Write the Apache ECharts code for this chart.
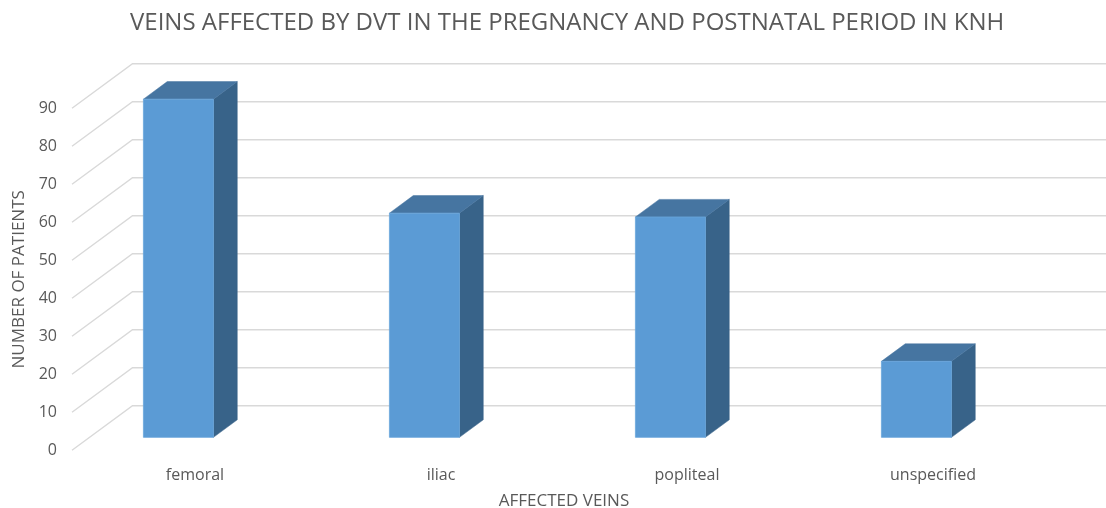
<!DOCTYPE html>
<html>
<head>
<meta charset="utf-8">
<style>
  html, body { margin: 0; padding: 0; background: #ffffff; }
  #chart { width: 1106px; height: 508px; }
</style>
<script src="https://cdn.jsdelivr.net/npm/echarts@6/dist/echarts.min.js"></script>
</head>
<body>
<div id="chart"></div>
<script>
// Veins affected by DVT – number of patients per vein
const categories = ['femoral', 'iliac', 'popliteal', 'unspecified'];
const patients = [89, 59, 58, 20];
const yTicks = [0, 10, 20, 30, 40, 50, 60, 70, 80, 90];

// Oblique 3D look: floor depth vector in pixels, bar placement within the depth
const DEPTH = [60.5, -44.6];
const BAR_FRONT = 0.29;
const BAR_BACK = 0.684;
const BAR_LEFT = -0.281;   // fraction of category band, from band centre
const BAR_W = 0.2846;      // fraction of category band

const TEXT = '#595959';
const GRID_COLOR = '#D9D9D9';
const FONT = '"Open Sans", Lato, sans-serif';

const chart = echarts.init(document.getElementById('chart'), null, { renderer: 'canvas' });

// Back wall + left wall gridline for each value tick
function renderWall(params, api) {
  const v = api.value(0);
  const p = api.coord([0, v]);
  const band = api.size([1, 0])[0];
  const leftX = p[0] - band / 2;
  const y = p[1];
  const bx = leftX + DEPTH[0];
  const by = y + DEPTH[1];
  return {
    type: 'polyline',
    shape: { points: [[leftX, y], [bx, by], [bx + band * 5, by]] },
    style: { stroke: GRID_COLOR, lineWidth: 1.4, fill: null },
    silent: true
  };
}

// 3D box for each bar: front, top and right side faces
function renderBar(params, api) {
  const idx = api.value(0);
  const val = api.value(1);
  const top = api.coord([idx, val]);
  const base = api.coord([idx, 0]);
  const band = api.size([1, 0])[0];
  const fx = BAR_FRONT * DEPTH[0], fy = BAR_FRONT * DEPTH[1];
  const dx = (BAR_BACK - BAR_FRONT) * DEPTH[0];
  const dy = (BAR_BACK - BAR_FRONT) * DEPTH[1];
  const x0 = base[0] + BAR_LEFT * band + fx;
  const x1 = x0 + BAR_W * band;
  const yb = base[1] + fy;
  const yt = top[1] + fy;
  return {
    type: 'group',
    children: [
      {
        type: 'polygon',
        shape: { points: [[x1, yt], [x1 + dx, yt + dy], [x1 + dx, yb + dy], [x1, yb]] },
        style: { fill: '#386389', stroke: '#386389', lineWidth: 0.5 }
      },
      {
        type: 'polygon',
        shape: { points: [[x0, yt], [x1, yt], [x1 + dx, yt + dy], [x0 + dx, yt + dy]] },
        style: { fill: '#4675A1', stroke: '#4675A1', lineWidth: 0.5 }
      },
      {
        type: 'rect',
        shape: { x: x0, y: yt, width: x1 - x0, height: yb - yt },
        style: { fill: '#5B9BD5', stroke: '#6AA6DC', lineWidth: 0.8 }
      }
    ]
  };
}

const option = {
  backgroundColor: '#ffffff',
  animation: false,
  title: {
    text: 'VEINS AFFECTED BY DVT IN THE PREGNANCY AND POSTNATAL PERIOD IN KNH',
    left: 125,
    top: 6,
    textStyle: { color: TEXT, fontFamily: FONT, fontSize: 24, fontWeight: 'normal' }
  },
  grid: { left: 72, right: 50, top: 108.3, bottom: 57.7, outerBoundsMode: 'none', containLabel: false },
  xAxis: {
    type: 'category',
    data: categories,
    name: 'AFFECTED VEINS',
    nameLocation: 'middle',
    nameGap: 42,
    nameTextStyle: { color: TEXT, fontFamily: FONT, fontSize: 17 },
    axisLine: { show: false },
    axisTick: { show: false },
    axisLabel: { color: TEXT, fontFamily: FONT, fontSize: 16, margin: 17 },
    splitLine: { show: false }
  },
  yAxis: {
    type: 'value',
    min: 0,
    max: 90,
    interval: 10,
    name: 'NUMBER OF PATIENTS',
    nameLocation: 'middle',
    nameRotate: 90,
    nameGap: 37,
    nameTextStyle: { color: TEXT, fontFamily: FONT, fontSize: 17 },
    axisLine: { show: false },
    axisTick: { show: false },
    axisLabel: { color: TEXT, fontFamily: FONT, fontSize: 16, margin: 15 },
    splitLine: { show: false }
  },
  series: [
    {
      type: 'custom',
      name: 'walls',
      renderItem: renderWall,
      data: yTicks.map(v => [v]),
      encode: { y: 0 },
      clip: false,
      silent: true,
      z: 1
    },
    {
      type: 'custom',
      name: 'patients',
      renderItem: renderBar,
      data: patients.map((v, i) => [i, v]),
      encode: { x: 0, y: 1 },
      clip: false,
      z: 5
    }
  ]
};

chart.setOption(option);
</script>
</body>
</html>
